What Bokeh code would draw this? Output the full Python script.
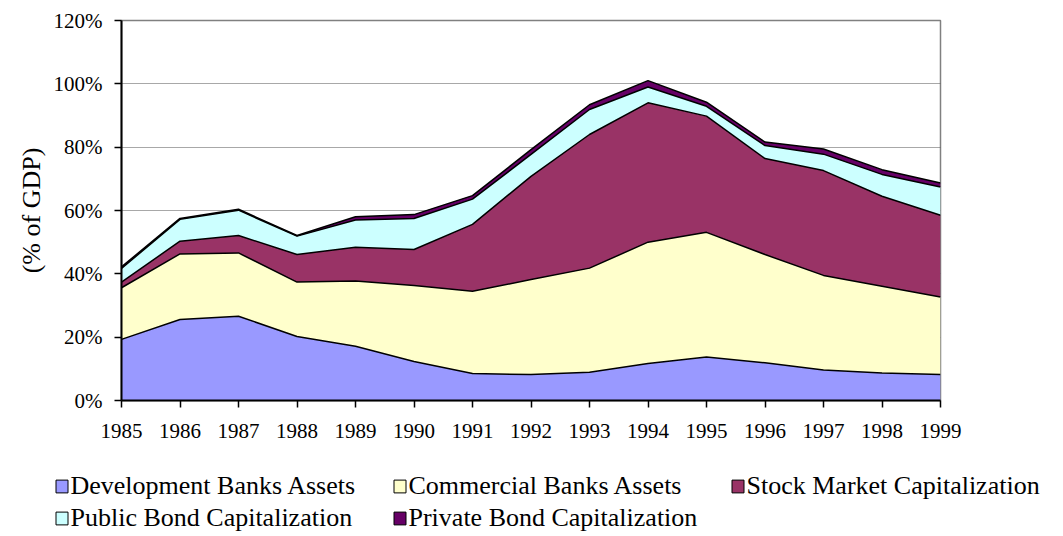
import math
from bokeh.plotting import figure
from bokeh.layouts import column, row
from bokeh.models import ColumnDataSource, Range1d, Legend, LegendItem, FixedTicker, PrintfTickFormatter
from bokeh.embed import file_html
from bokeh.resources import INLINE

years = [1985, 1986, 1987, 1988, 1989, 1990, 1991, 1992, 1993, 1994, 1995, 1996, 1997, 1998, 1999]
development_banks = [19.3, 25.6, 26.6, 20.2, 17.1, 12.3, 8.5, 8.2, 8.9, 11.7, 13.7, 11.9, 9.6, 8.7, 8.2]
commercial_banks = [16.3, 20.7, 20.0, 17.2, 20.6, 24.0, 26.0, 30.0, 32.9, 38.3, 39.4, 34.2, 29.9, 27.4, 24.5]
stock_market = [1.8, 4.0, 5.5, 8.7, 10.7, 11.4, 21.1, 32.6, 42.2, 44.0, 36.7, 30.3, 33.1, 28.4, 25.8]
public_bonds = [4.3, 6.9, 8.0, 5.8, 8.6, 9.8, 8.0, 6.9, 7.9, 5.0, 3.1, 4.1, 5.2, 6.9, 8.9]
private_bonds = [0.5, 0.3, 0.3, 0.2, 1.0, 1.2, 1.1, 1.5, 1.5, 2.0, 1.3, 1.1, 1.6, 1.5, 1.3]

series_names = ["Development Banks Assets", "Commercial Banks Assets", "Stock Market Capitalization",
                "Public Bond Capitalization", "Private Bond Capitalization"]
keys = ["dev", "comm", "stock", "pub", "priv"]
colors = ["#9999FF", "#FFFFCC", "#993366", "#CCFFFF", "#660066"]
y_ticks = [0, 20, 40, 60, 80, 100, 120]

source = ColumnDataSource(dict(year=years, dev=development_banks, comm=commercial_banks,
                               stock=stock_market, pub=public_bonds, priv=private_bonds))

FONT = "Liberation Serif"
W = 1047
PH = 455

p = figure(width=W, height=PH, output_backend="svg", toolbar_location=None,
           x_range=Range1d(1985, 1999), y_range=Range1d(0, 120),
           min_border_left=121, min_border_right=W - 940, min_border_top=20, min_border_bottom=PH - 400)

p.varea_stack(stackers=keys, x="year", color=colors, source=source)
p.vline_stack(stackers=keys, x="year", line_color="black", line_width=1.5, source=source)

p.outline_line_color = "#808080"
p.outline_line_width = 1.5
p.xgrid.grid_line_color = None
p.ygrid.grid_line_color = "#505050"
p.ygrid.grid_line_dash = "1 1"
p.ygrid.grid_line_width = 1

p.xaxis.ticker = FixedTicker(ticks=years)
p.yaxis.ticker = FixedTicker(ticks=y_ticks)
p.yaxis.formatter = PrintfTickFormatter(format="%d%%")
for ax in (p.xaxis, p.yaxis):
    ax.axis_line_color = "black"
    ax.axis_line_width = 2
    ax.major_tick_line_color = "black"
    ax.major_tick_line_width = 1.5
    ax.major_tick_out = 7
    ax.major_tick_in = 0
    ax.minor_tick_line_color = None
    ax.major_label_text_font = FONT
    ax.major_label_text_font_size = "21px"
    ax.major_label_text_color = "black"
p.xaxis.major_label_standoff = 16
p.yaxis.major_label_standoff = 12
p.yaxis.axis_label = "(% of GDP)"
p.yaxis.axis_label_text_font = FONT
p.yaxis.axis_label_text_font_size = "26px"
p.yaxis.axis_label_text_font_style = "normal"
p.yaxis.axis_label_text_color = "black"
p.yaxis.axis_label_standoff = 5

# legend strip below the chart
LH = 78
leg = figure(width=W, height=LH, output_backend="svg", toolbar_location=None,
             x_range=Range1d(0, 1), y_range=Range1d(0, 1),
             x_axis_type=None, y_axis_type=None,
             min_border_left=0, min_border_right=0, min_border_top=0, min_border_bottom=0)
leg.outline_line_color = None
leg.xgrid.grid_line_color = None
leg.ygrid.grid_line_color = None
for fig in (p, leg):
    try:
        fig.frame_align = False
    except Exception:
        pass

# legend swatch renderers (a single NaN row: nothing is drawn in the frame)
swatches = []
for c in colors:
    r = leg.quad(left=[math.nan], right=[math.nan], top=[math.nan], bottom=[math.nan],
                 fill_color=c, line_color="black", line_width=1)
    swatches.append(r)

rows = [[0, 1, 2], [3, 4]]
row_locs = [(53.5, 32.5), (53.5, 0)]
for idxs, loc in zip(rows, row_locs):
    lg = Legend(items=[LegendItem(label=series_names[i], renderers=[swatches[i]]) for i in idxs],
                location=loc, orientation="horizontal",
                glyph_width=15, glyph_height=16, label_standoff=2, label_width=295, spacing=26,
                padding=0, margin=0, border_line_color=None, background_fill_alpha=0,
                label_text_font=FONT, label_text_font_size="26px", label_text_color="black")
    leg.add_layout(lg, "center")

layout = column(p, row(leg), spacing=0)
open("out.html", "w").write(file_html(layout, INLINE))
